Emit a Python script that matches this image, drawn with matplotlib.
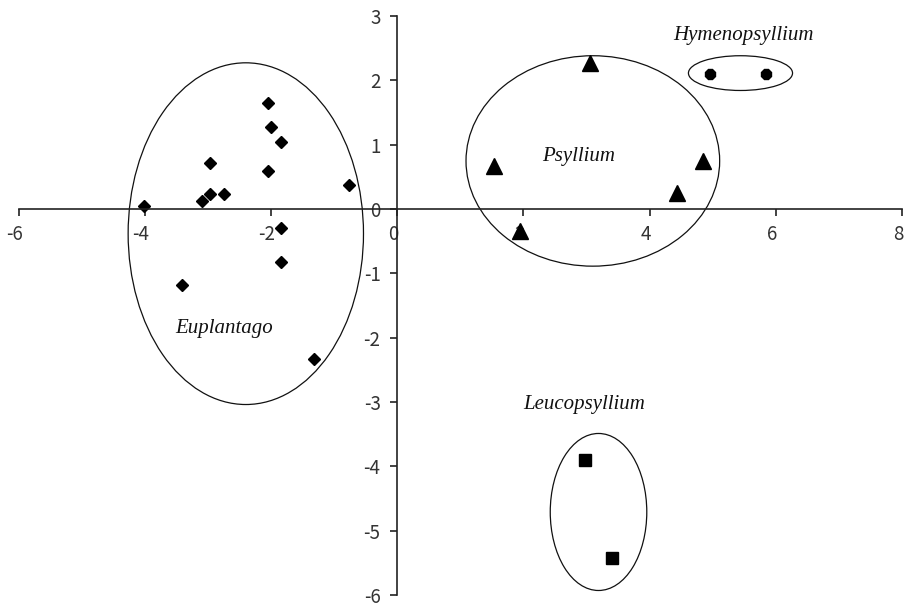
import numpy as np
import matplotlib
matplotlib.use("Agg")
import matplotlib.pyplot as plt
import matplotlib.transforms as mtransforms
from matplotlib.patches import Ellipse

# PCA-style scores
euplantago_x = [-4.02, -3.09, -2.96, -2.75, -2.96, -2.05, -2.00, -1.84, -2.05, -0.76, -1.84, -1.84, -3.41, -1.32]
euplantago_y = [0.05, 0.12, 0.23, 0.23, 0.72, 1.64, 1.27, 1.04, 0.59, 0.37, -0.30, -0.82, -1.19, -2.33]

psyllium_x = [3.06, 1.54, 4.85, 4.43, 1.95]
psyllium_y = [2.26, 0.66, 0.74, 0.24, -0.35]

hymeno_x = [4.96, 5.85]
hymeno_y = [2.10, 2.10]

leuco_x = [2.97, 3.40]
leuco_y = [-3.90, -5.43]

# group ellipses: centre x, centre y, width, height
group_names = ["Euplantago", "Psyllium", "Hymenopsyllium", "Leucopsyllium"]
ell_cx = [-2.40, 3.10, 5.44, 3.19]
ell_cy = [-0.385, 0.745, 2.11, -4.71]
ell_w = [3.73, 4.02, 1.65, 1.53]
ell_h = [5.31, 3.27, 0.54, 2.44]
label_x = [-2.74, 2.87, 5.48, 2.97]
label_y = [-1.86, 0.82, 2.70, -3.04]

x_ticks = [-6, -4, -2, 0, 2, 4, 6, 8]
y_ticks = [-6, -5, -4, -3, -2, -1, 0, 1, 2, 3]

fig = plt.figure(figsize=(9.06, 6.09), dpi=100)
ax = fig.add_axes([0.0206, 0.023, 0.975, 0.951])
ax.set_xlim(-6, 8)
ax.set_ylim(-6, 3)

for s in ["top", "right"]:
    ax.spines[s].set_visible(False)
ax.spines["left"].set_position(("data", 0))
ax.spines["bottom"].set_position(("data", 0))
for s in ["left", "bottom"]:
    ax.spines[s].set_linewidth(1.2)
    ax.spines[s].set_color("#222222")

tick_font = {"family": ["Noto Sans CJK KR", "DejaVu Sans"], "size": 13.5}
ax.set_xticks(x_ticks)
ax.set_yticks(y_ticks)
ax.set_xticklabels([str(t) for t in x_ticks], fontdict=tick_font, color="#333333")
ax.set_yticklabels([str(t) for t in y_ticks], fontdict=tick_font, color="#333333")
ax.tick_params(axis="x", direction="out", length=5, width=1.2, color="#222222", pad=6)
ax.tick_params(axis="y", direction="out", length=5, width=1.2, color="#222222", pad=7)

# x labels sit a little left of their ticks, keeps the "8" inside the frame
shift = mtransforms.ScaledTranslation(-4 / 100, 0, fig.dpi_scale_trans)
for lab in ax.get_xticklabels():
    lab.set_transform(lab.get_transform() + shift)

ax.plot(euplantago_x, euplantago_y, "D", color="black", markersize=6.5, clip_on=False)
ax.plot(psyllium_x, psyllium_y, "^", color="black", markersize=11, clip_on=False)
ax.plot(hymeno_x, hymeno_y, "8", color="black", markersize=8, clip_on=False)
ax.plot(leuco_x, leuco_y, "s", color="black", markersize=9, clip_on=False)

for i in range(len(group_names)):
    ax.add_patch(Ellipse((ell_cx[i], ell_cy[i]), ell_w[i], ell_h[i],
                         fill=False, edgecolor="#111111", linewidth=0.9, clip_on=False))
    ax.text(label_x[i], label_y[i], group_names[i], ha="center", va="center",
            family="Liberation Serif", style="italic", fontsize=15, color="#111111")

fig.savefig("out.png", dpi=100, facecolor="white")
